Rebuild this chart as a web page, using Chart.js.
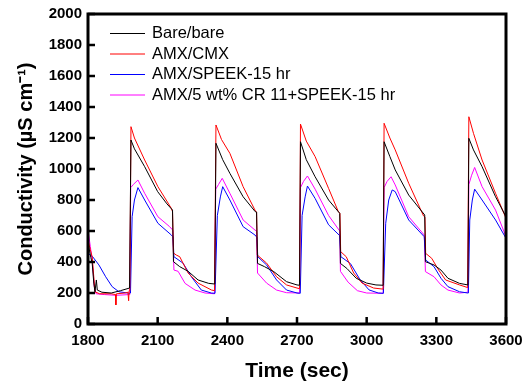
<!DOCTYPE html>
<html>
<head>
<meta charset="utf-8">
<script src="https://cdn.jsdelivr.net/npm/chart.js@4.4.0/dist/chart.umd.min.js"></script>
<style>
  html, body { margin: 0; padding: 0; background: #fff; }
  #wrap { width: 526px; height: 384px; position: relative; }
</style>
</head>
<body>
<div id="wrap"><canvas id="c" width="526" height="384"></canvas></div>
<script>
// ---- Data ----
const seriesLabels = ["Bare/bare", "AMX/CMX", "AMX/SPEEK-15 hr", "AMX/5 wt% CR 11+SPEEK-15 hr"];
const seriesColors = ["#000000", "#ff0000", "#0000ff", "#ff00ff"];

const xTicks = [1800, 2100, 2400, 2700, 3000, 3300, 3600];
const yTicks = [0, 200, 400, 600, 800, 1000, 1200, 1400, 1600, 1800, 2000];

const bareTime = [1800,1812,1818,1825,1830,1836,1840,1860,1900,1940,1979,
  1985,2000,2044,2100,2140,2164,2168,2195,2231,2274,2320,2346,
  2351,2380,2411,2468,2520,2526,2530,2560,2600,2655,2700,2711,
  2715,2740,2778,2836,2884,2887,2915,2955,3000,3040,3071,
  3075,3100,3123,3181,3250,3253,3290,3320,3350,3400,3436,
  3440,3460,3497,3555,3600];
const bareValue = [522,430,393,264,208,284,219,205,200,215,232,
  1187,1130,1015,854,775,735,402,370,340,284,262,258,
  1166,1060,972,821,725,722,391,370,338,273,252,250,
  1176,1060,950,800,714,391,358,295,264,252,250,
  1176,1080,994,832,703,402,381,348,295,262,252,
  1198,1123,1015,821,692];

const amxCmxTime = [1800,1810,1818,1830,1850,1900,1918,1920,1922,1960,1972,1975,1977,1980,
  1985,2000,2044,2101,2159,2164,2168,2180,2195,2231,2274,2332,2345,
  2351,2375,2411,2468,2519,2526,2529,2569,2612,2655,2700,2711,
  2715,2740,2778,2836,2878,2885,2888,2912,2944,2980,3030,3071,
  3075,3100,3123,3181,3245,3251,3254,3280,3310,3340,3400,3435,
  3440,3460,3497,3555,3600];
const amxCmxValue = [542,480,434,208,195,195,190,123,195,200,205,150,215,220,
  1273,1200,1058,886,746,724,458,445,434,329,264,219,215,
  1284,1190,1101,886,735,720,445,393,305,252,232,228,
  1290,1180,1080,875,725,715,467,434,329,264,232,225,
  1295,1200,1123,908,697,690,456,424,348,284,252,235,
  1337,1230,1058,843,682];

const speekTime = [1800,1820,1847,1876,1904,1933,1980,
  1983,1990,2000,2015,2044,2101,2159,2166,2170,2209,2245,2288,2331,2347,
  2350,2357,2370,2380,2411,2468,2519,2527,2531,2569,2612,2655,2700,2712,
  2714,2722,2735,2745,2778,2836,2884,2889,2930,2970,3010,3050,3072,
  3074,3082,3095,3110,3123,3181,3248,3254,3290,3320,3350,3400,3436,
  3438,3444,3455,3465,3497,3555,3600];
const speekValue = [456,434,381,305,241,208,198,
  200,692,800,880,800,650,574,563,434,393,305,219,200,198,
  198,700,820,886,800,628,574,560,434,381,284,219,200,198,
  198,700,820,890,810,640,570,434,390,290,220,200,198,
  198,650,800,865,854,671,563,413,370,295,241,208,200,
  200,671,800,870,800,671,553];

const crTime = [1800,1810,1818,1827,1835,1870,1920,1980,
  1984,1995,2015,2044,2101,2150,2165,2170,2188,2218,2261,2304,2345,
  2350,2362,2378,2411,2468,2519,2526,2530,2569,2612,2655,2711,
  2715,2728,2745,2778,2836,2884,2887,2920,2960,3000,3071,
  3075,3088,3105,3123,3181,3248,3253,3290,3320,3350,3400,3436,
  3440,3452,3465,3497,3555,3600];
const crValue = [606,500,413,241,195,190,185,190,
  880,900,929,843,692,630,606,348,340,262,219,200,195,
  870,900,940,843,671,606,600,329,264,219,202,200,
  880,920,955,870,700,600,340,270,215,200,198,
  880,920,950,897,692,574,338,305,252,219,200,205,
  900,960,1010,886,735,563];

const seriesTimes = [bareTime, amxCmxTime, speekTime, crTime];
const seriesValues = [bareValue, amxCmxValue, speekValue, crValue];

// ---- Build datasets ----
const datasets = seriesLabels.map((label, i) => ({
  label: label,
  data: seriesTimes[i].map((t, k) => ({ x: t, y: seriesValues[i][k] })),
  borderColor: seriesColors[i],
  backgroundColor: seriesColors[i],
  borderWidth: 1,
  pointRadius: 0,
  tension: 0,
  fill: false
}));

const FONT = "'Liberation Sans', Arial, Helvetica, sans-serif";

// frame, inward ticks and inside legend
const framePlugin = {
  id: 'frame',
  afterDatasetsDraw(chart) {
    const ctx = chart.ctx;
    const a = chart.chartArea;
    const xs = chart.scales.x, ys = chart.scales.y;
    ctx.save();
    ctx.strokeStyle = '#000';
    ctx.lineWidth = 2.5;
    ctx.beginPath();
    xs.ticks.forEach(t => {
      const px = xs.getPixelForValue(t.value);
      ctx.moveTo(px, a.bottom);
      ctx.lineTo(px, a.bottom - 7);
    });
    ys.ticks.forEach(t => {
      const py = ys.getPixelForValue(t.value);
      ctx.moveTo(a.left, py);
      ctx.lineTo(a.left + 7, py);
    });
    ctx.stroke();
    ctx.lineWidth = 3;
    ctx.strokeRect(a.left, a.top, a.right - a.left, a.bottom - a.top);
    // legend
    ctx.font = '16.5px ' + FONT;
    ctx.textBaseline = 'middle';
    ctx.textAlign = 'left';
    chart.data.datasets.forEach((ds, i) => {
      const y = a.top + 19.5 + i * 20.5;
      ctx.strokeStyle = ds.borderColor;
      ctx.lineWidth = 1;
      ctx.beginPath();
      ctx.moveTo(a.left + 22, y);
      ctx.lineTo(a.left + 57, y);
      ctx.stroke();
      ctx.fillStyle = '#000';
      ctx.fillText(ds.label, a.left + 64, y);
    });
    ctx.restore();
  }
};

const plainTick = v => String(v);

new Chart(document.getElementById('c'), {
  type: 'line',
  data: { datasets: datasets },
  options: {
    responsive: false,
    animation: false,
    devicePixelRatio: 1,
    layout: { padding: { top: 14, right: 20, left: 0, bottom: 0 } },
    plugins: { legend: { display: false }, tooltip: { enabled: false } },
    scales: {
      x: {
        type: 'linear',
        min: xTicks[0],
        max: xTicks[xTicks.length - 1],
        afterBuildTicks: s => { s.ticks = xTicks.map(v => ({ value: v })); },
        afterFit: s => { s.height = 60; s.paddingRight = 0; s.paddingLeft = 0; },
        ticks: { color: '#000', font: { family: FONT, size: 15, weight: 'bold' }, padding: 8, maxRotation: 0, callback: plainTick },
        grid: { display: false, drawTicks: false },
        border: { display: false },
        title: { display: true, text: 'Time (sec)', color: '#000',
                 font: { family: FONT, size: 21, weight: 'bold' }, padding: { top: 0, bottom: 0 } }
      },
      y: {
        min: yTicks[0],
        max: yTicks[yTicks.length - 1],
        afterBuildTicks: s => { s.ticks = yTicks.map(v => ({ value: v })); },
        afterFit: s => { s.width = 88; s.paddingTop = 0; s.paddingBottom = 0; },
        ticks: { color: '#000', font: { family: FONT, size: 15, weight: 'bold' }, padding: 6, callback: plainTick },
        grid: { display: false, drawTicks: false },
        border: { display: false },
        title: { display: true, text: 'Conductivity (µS cm⁻¹)', color: '#000',
                 font: { family: FONT, size: 20, weight: 'bold' }, padding: { top: 14, bottom: 0 } }
      }
    }
  },
  plugins: [framePlugin]
});
</script>
</body>
</html>
